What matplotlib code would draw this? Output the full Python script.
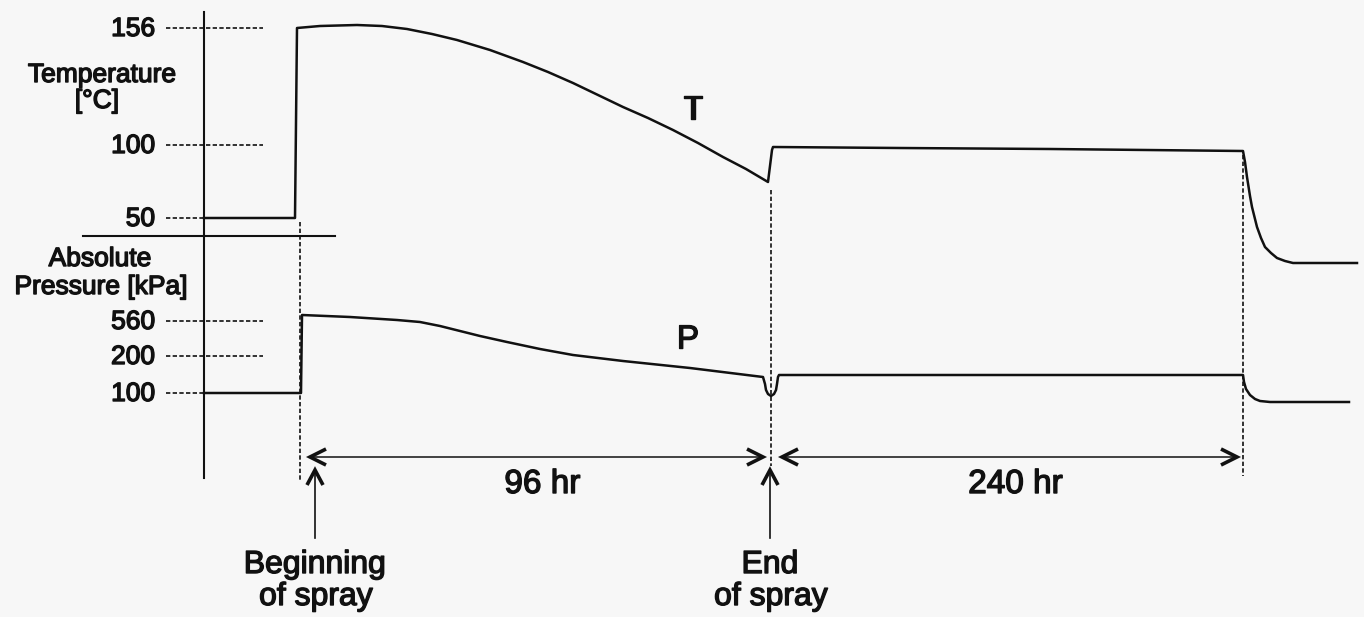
import matplotlib.pyplot as plt
import matplotlib.patheffects as pe

plt.rcParams['font.family'] = ['Liberation Sans', 'DejaVu Sans']

# Schematic layout units: x runs left to right, y runs top to bottom
W, H = 1364, 617

# vertical axis and event markers
axis_x = 204
spray_on_x = 300
spray_off_x = 771
cooldown_x = 1243

# tick levels on the temperature and pressure scales
temp_ticks = ["156", "100", "50"]
temp_tick_y = [28, 145, 218]
press_ticks = ["560", "200", "100"]
press_tick_y = [321, 356, 393]

# temperature trace
temp_x = [204, 295, 297, 320, 357, 382, 407, 432, 457, 490, 523, 548, 573, 598,
          623, 648, 673, 698, 723, 746, 768, 772, 773, 900, 1050, 1243, 1245,
          1247, 1250, 1252, 1257, 1261, 1265, 1271, 1277, 1285, 1293, 1357]
temp_y = [218, 218, 28, 26, 25, 26, 29, 34, 40, 50, 62, 72, 83, 95,
          107, 118, 130, 143, 157, 169, 182, 150, 147, 148, 149, 151, 162,
          177, 196, 207, 227, 238, 247, 253, 258, 261, 263, 263]

# pressure trace
press_x = [204, 301, 302, 350, 397, 420, 440, 460, 480, 507, 540, 573, 623, 690,
           763, 765, 766, 768, 771, 774, 776, 777, 778, 779, 1000, 1243, 1244,
           1246, 1250, 1255, 1260, 1270, 1349]
press_y = [393, 393, 315, 317, 320, 322, 326, 331, 336, 342, 349, 355, 361, 368,
           377, 384, 390, 394, 396, 394, 390, 384, 377, 375, 375, 375, 382,
           389, 395, 399, 401, 402, 402]

# span arrows along the time line
spans = [(310, 763, "96 hr"), (782, 1237, "240 hr")]
span_y = 457
events = [(315, ["Beginning", "of spray"]), (770, ["End", "of spray"])]

ink = "#111111"
heavy = [pe.withStroke(linewidth=1.0, foreground=ink)]

fig = plt.figure(figsize=(W / 100, H / 100), dpi=100)
fig.patch.set_facecolor("#f7f7f7")
ax = fig.add_axes([0, 0, 1, 1])
ax.set_xlim(0, W)
ax.set_ylim(H, 0)
ax.axis("off")

# vertical axis and separator between the two scales
ax.plot([axis_x, axis_x], [12, 478], color=ink, lw=1.5)
ax.plot([83, 335], [236, 236], color=ink, lw=1.5)

dash = (0, (2.6, 1.4))
for lab, y in zip(temp_ticks, temp_tick_y):
    x_end = 263 if y < 200 else axis_x
    ax.plot([166, x_end], [y, y], color=ink, lw=1.2, linestyle=dash)
    ax.text(155, y + 1, lab, ha="right", va="center", fontsize=19,
            color=ink, path_effects=heavy)
for lab, y in zip(press_ticks, press_tick_y):
    x_end = 263 if y < 380 else axis_x
    ax.plot([166, x_end], [y, y], color=ink, lw=1.2, linestyle=dash)
    ax.text(155, y + 1, lab, ha="right", va="center", fontsize=19,
            color=ink, path_effects=heavy)

ax.text(102, 82, "Temperature", ha="center", va="baseline", fontsize=19,
        color=ink, path_effects=heavy)
ax.text(97, 108, "[°C]", ha="center", va="baseline", fontsize=19,
        color=ink, path_effects=heavy)
ax.text(100, 266, "Absolute", ha="center", va="baseline", fontsize=19,
        color=ink, path_effects=heavy)
ax.text(101, 294, "Pressure [kPa]", ha="center", va="baseline", fontsize=19,
        color=ink, path_effects=heavy)

# event marker lines
ax.plot([spray_on_x, spray_on_x], [222, 480], color=ink, lw=1.2, linestyle=dash)
ax.plot([spray_off_x, spray_off_x], [190, 466], color=ink, lw=1.2, linestyle=dash)
ax.plot([cooldown_x, cooldown_x], [155, 476], color=ink, lw=1.2, linestyle=dash)

# traces
ax.plot(temp_x, temp_y, color=ink, lw=1.8, solid_joinstyle="round")
ax.plot(press_x, press_y, color=ink, lw=1.8, solid_joinstyle="round")
ax.text(693, 110, "T", ha="center", va="center", fontsize=24, color=ink,
        path_effects=heavy)
ax.text(688, 340, "P", ha="center", va="center", fontsize=24, color=ink,
        path_effects=heavy)


def chevron(tip_x, tip_y, dx, dy):
    # open arrow head pointing from (tip - d) towards tip
    if dy == 0:
        xs = [tip_x - dx, tip_x, tip_x - dx]
        ys = [tip_y - 8, tip_y, tip_y + 8]
    else:
        xs = [tip_x - 8, tip_x, tip_x + 8]
        ys = [tip_y - dy, tip_y, tip_y - dy]
    ax.plot(xs, ys, color=ink, lw=2.6, solid_joinstyle="miter",
            solid_capstyle="butt")


for x0, x1, lab in spans:
    ax.plot([x0 + 2, x1 - 2], [span_y, span_y], color=ink, lw=1.1)
    chevron(x0, span_y, -16, 0)
    chevron(x1, span_y, 16, 0)
    ax.text((x0 + x1) / 2 + 6, 493, lab, ha="center", va="baseline",
            fontsize=24, color=ink, path_effects=heavy)

for x, lines in events:
    ax.plot([x, x], [538, 472], color=ink, lw=1.2)
    chevron(x, 470, 0, -15)
    ax.text(x, 573, lines[0], ha="center", va="baseline", fontsize=23,
            color=ink, path_effects=heavy)
    ax.text(x + 1, 605, lines[1], ha="center", va="baseline", fontsize=23,
            color=ink, path_effects=heavy)

fig.savefig("out.png", dpi=100, facecolor=fig.get_facecolor())
